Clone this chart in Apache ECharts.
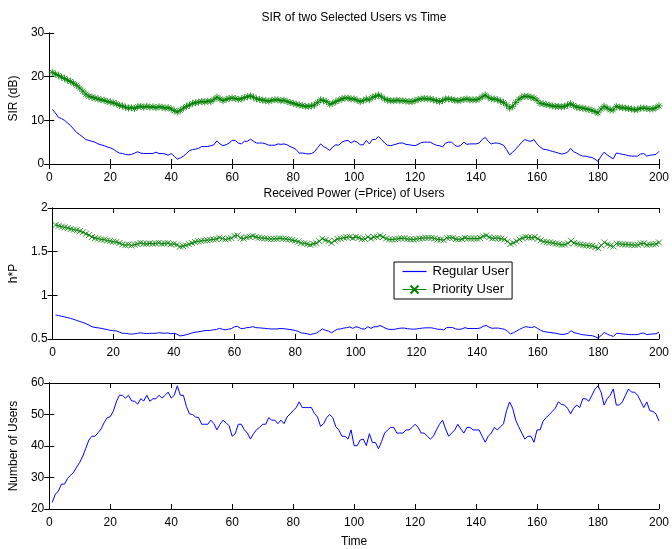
<!DOCTYPE html>
<html><head><meta charset="utf-8">
<script src="https://cdn.jsdelivr.net/npm/echarts@6/dist/echarts.min.js"></script>
<style>html,body{margin:0;padding:0;background:#fff}#c{width:672px;height:549px}</style>
</head><body><div id="c"></div>
<script>
const xTicks = [0, 20, 40, 60, 80, 100, 120, 140, 160, 180, 200];
const timeStart = 1;

const sirRegular = [
12.5,11.7,10.7,10.4,10.0,9.4,8.8,8.0,7.2,6.7,
6.2,5.6,5.4,5.2,5.0,4.6,4.4,4.2,3.9,3.7,
3.4,2.9,2.5,2.4,2.2,2.1,2.2,2.5,2.8,2.5,
2.4,2.4,2.4,2.4,2.7,2.4,2.4,2.3,2.0,2.4,
1.8,1.1,1.4,1.8,2.4,3.1,3.3,3.4,3.6,4.0,
4.0,4.0,4.2,4.4,5.3,4.6,4.2,4.4,4.8,5.4,
5.4,4.8,4.6,5.2,5.2,5.7,5.2,4.8,4.8,4.8,
4.6,4.3,4.3,4.3,4.6,4.5,4.6,4.4,4.0,3.7,
3.3,2.5,2.5,2.4,2.3,2.4,2.8,3.7,4.6,4.0,
3.6,3.1,3.9,4.4,4.3,5.0,5.3,5.4,4.8,5.3,
5.0,4.4,4.4,5.4,4.6,5.6,5.6,6.3,5.6,4.8,
4.3,4.2,4.4,4.6,4.8,4.8,4.5,4.4,4.3,4.2,
4.5,4.9,5.0,5.0,5.0,4.6,4.3,4.2,3.9,4.8,
5.0,5.0,4.3,4.0,4.3,5.0,4.5,4.6,4.6,4.6,
4.8,5.6,6.1,5.2,4.6,4.8,4.8,4.6,4.3,3.3,
2.1,2.7,3.4,4.2,5.0,5.6,5.3,5.2,5.6,4.6,
3.9,3.4,3.3,3.1,2.9,2.7,2.5,2.3,2.4,2.7,
3.6,2.8,2.5,2.1,1.8,1.8,1.6,1.5,1.1,0.6,
1.8,2.7,2.1,1.6,1.2,2.5,2.4,2.2,2.1,1.9,
1.8,1.8,1.8,2.3,2.4,1.8,2.0,2.1,2.2,2.9];

const sirPriority = [
21.0,20.6,20.3,19.9,19.6,19.2,18.9,18.5,18.0,17.4,
16.7,16.0,15.5,15.3,15.1,14.9,14.7,14.6,14.3,14.2,
14.0,13.8,13.4,13.3,13.0,12.8,12.9,12.7,13.1,13.2,
13.0,13.2,13.0,13.1,12.9,13.1,13.0,12.8,12.9,12.6,
12.2,11.9,12.3,12.8,13.2,13.5,13.9,14.0,14.2,14.3,
14.2,14.4,14.3,14.8,15.3,14.9,14.5,14.8,15.0,15.1,
15.0,14.8,14.9,15.2,15.4,15.6,15.3,14.9,14.8,14.6,
14.5,14.4,14.6,14.7,14.7,14.5,14.6,14.3,14.1,13.9,
13.7,13.5,13.4,13.2,13.2,13.3,13.5,14.1,14.7,14.5,
14.3,13.7,13.9,14.3,14.6,14.9,15.1,15.1,14.9,14.9,
14.6,14.3,14.5,14.9,14.7,15.3,15.5,15.8,15.4,14.9,
14.6,14.5,14.5,14.6,14.5,14.5,14.4,14.3,14.3,14.5,
14.8,14.9,15.0,14.9,14.9,14.7,14.5,14.3,14.5,14.9,
14.9,14.8,14.6,14.5,14.6,14.8,14.9,14.7,14.7,14.7,
14.9,15.4,15.8,15.3,14.9,14.9,14.7,14.4,14.1,13.5,
12.8,13.2,14.1,14.8,15.3,15.5,15.5,15.3,15.1,14.6,
13.9,13.8,13.6,13.5,13.3,13.2,13.2,13.1,13.2,13.5,
13.8,13.4,13.0,12.9,12.8,12.6,12.5,12.3,12.0,11.7,
12.6,13.2,12.8,12.4,12.4,13.2,13.0,12.9,12.8,12.7,
12.6,12.4,12.5,12.8,12.8,12.7,12.6,12.6,12.9,13.3];

const powerRegular = [
0.775,0.768,0.760,0.752,0.745,0.735,0.725,0.712,0.700,0.690,
0.675,0.660,0.640,0.632,0.628,0.622,0.615,0.608,0.600,0.595,
0.592,0.580,0.565,0.565,0.560,0.555,0.560,0.565,0.572,0.565,
0.562,0.565,0.565,0.565,0.572,0.568,0.565,0.570,0.560,0.565,
0.555,0.535,0.540,0.548,0.558,0.570,0.578,0.582,0.588,0.595,
0.598,0.598,0.605,0.608,0.622,0.612,0.605,0.612,0.620,0.640,
0.645,0.622,0.620,0.630,0.632,0.642,0.630,0.628,0.625,0.622,
0.618,0.615,0.615,0.615,0.620,0.618,0.615,0.610,0.605,0.598,
0.588,0.570,0.565,0.560,0.550,0.560,0.568,0.590,0.615,0.600,
0.590,0.570,0.595,0.612,0.615,0.625,0.630,0.638,0.622,0.640,
0.632,0.615,0.615,0.640,0.622,0.640,0.640,0.655,0.638,0.620,
0.610,0.610,0.612,0.620,0.625,0.625,0.618,0.615,0.612,0.615,
0.620,0.625,0.628,0.628,0.628,0.620,0.612,0.610,0.605,0.630,
0.632,0.630,0.615,0.610,0.615,0.630,0.620,0.620,0.620,0.620,
0.625,0.645,0.655,0.635,0.622,0.625,0.625,0.618,0.612,0.590,
0.558,0.572,0.590,0.610,0.628,0.642,0.635,0.632,0.642,0.620,
0.600,0.585,0.580,0.575,0.570,0.565,0.558,0.552,0.555,0.565,
0.595,0.572,0.565,0.555,0.548,0.545,0.540,0.538,0.525,0.510,
0.545,0.575,0.555,0.540,0.530,0.565,0.562,0.558,0.555,0.552,
0.550,0.550,0.550,0.565,0.568,0.550,0.555,0.558,0.560,0.578];

const powerPriority = [
1.805,1.795,1.785,1.778,1.770,1.760,1.752,1.745,1.735,1.722,
1.705,1.690,1.668,1.655,1.650,1.640,1.638,1.628,1.622,1.615,
1.610,1.598,1.582,1.575,1.580,1.572,1.580,1.588,1.600,1.592,
1.590,1.595,1.590,1.595,1.600,1.592,1.595,1.598,1.585,1.590,
1.580,1.558,1.565,1.572,1.585,1.598,1.610,1.618,1.622,1.628,
1.632,1.635,1.640,1.645,1.660,1.650,1.640,1.648,1.655,1.680,
1.685,1.655,1.650,1.665,1.670,1.680,1.668,1.660,1.655,1.652,
1.648,1.645,1.645,1.648,1.652,1.648,1.645,1.640,1.632,1.625,
1.615,1.600,1.595,1.588,1.578,1.590,1.598,1.620,1.648,1.632,
1.620,1.600,1.625,1.645,1.650,1.660,1.665,1.670,1.655,1.668,
1.660,1.645,1.645,1.668,1.650,1.668,1.670,1.685,1.668,1.650,
1.640,1.640,1.642,1.648,1.652,1.652,1.645,1.642,1.640,1.645,
1.650,1.655,1.658,1.658,1.658,1.650,1.640,1.638,1.632,1.658,
1.660,1.658,1.645,1.640,1.645,1.658,1.650,1.650,1.650,1.650,
1.655,1.675,1.685,1.665,1.652,1.655,1.655,1.648,1.640,1.618,
1.588,1.600,1.620,1.640,1.655,1.668,1.662,1.660,1.668,1.648,
1.630,1.615,1.610,1.605,1.598,1.592,1.585,1.580,1.582,1.595,
1.625,1.600,1.592,1.582,1.575,1.572,1.568,1.565,1.552,1.540,
1.572,1.605,1.585,1.570,1.560,1.592,1.590,1.585,1.582,1.580,
1.578,1.575,1.578,1.592,1.595,1.578,1.582,1.585,1.588,1.605];

const numUsers = [
22.1,24.7,25.7,27.9,27.9,29.7,30.7,31.7,33.3,34.8,
36.8,39.3,41.9,43.1,43.1,44.2,45.4,47.4,49.0,49.3,
51.0,54.0,56.1,56.1,55.2,56.1,54.3,54.2,53.3,55.0,
54.3,56.1,54.2,55.0,55.0,56.1,55.2,56.1,57.1,55.2,
56.1,59.1,56.1,56.1,52.5,50.2,50.0,49.2,49.0,46.9,
46.9,46.9,48.2,47.1,45.1,46.9,48.2,47.4,46.4,43.1,
43.9,46.9,46.9,45.1,44.1,42.2,43.9,45.2,45.9,46.9,
46.9,49.0,48.2,48.2,47.1,48.2,47.1,49.2,50.2,51.2,
52.2,54.0,52.2,52.2,52.2,52.2,50.3,49.2,46.2,47.1,
49.0,50.0,49.0,46.1,45.1,43.1,43.1,42.2,45.1,40.1,
40.1,41.9,42.2,40.1,43.9,41.1,41.1,39.1,41.4,44.1,
45.1,45.9,45.9,44.1,44.1,44.1,45.1,45.1,45.9,46.9,
45.9,44.1,44.1,43.1,42.2,43.1,45.1,46.9,48.2,45.4,
43.1,44.1,45.1,46.9,45.4,44.1,45.9,45.9,45.1,45.1,
45.1,43.1,41.2,43.1,44.1,45.9,45.1,46.1,47.1,51.2,
54.0,52.0,48.2,46.1,44.1,42.2,43.1,43.1,41.2,45.1,
45.1,47.9,49.0,50.0,51.0,52.0,54.0,53.2,53.0,52.0,
50.2,52.0,53.0,52.2,55.0,55.0,54.2,56.1,58.1,59.1,
57.1,53.0,55.0,56.1,58.1,53.0,53.0,54.0,56.1,58.1,
57.1,57.1,56.1,54.2,52.2,54.0,51.2,51.0,50.2,47.9];

const BLUE = '#0000ff', GREEN = '#008000';
const FONT = "'Liberation Sans', Arial, Helvetica, sans-serif";
const pts = arr => arr.map((v, i) => [timeStart + i, v]);

const grids = [
  {left: 48, right: 11, top: 33, height: 131},
  {left: 48, right: 11, top: 208, height: 131},
  {left: 48, right: 11, top: 383, height: 132}
];
const yCfg = [
  {min: 0, max: 30, interval: 10, name: 'SIR (dB)', gap: 19},
  {min: 0.5, max: 2, interval: 0.5, name: 'h*P', gap: 31},
  {min: 20, max: 60, interval: 10, name: 'Number of Users', gap: 24}
];

const axLine = {show: true, lineStyle: {color: '#000', width: 1}};
const tick = {show: true, inside: true, length: 5, lineStyle: {color: '#000'}};
const xAxis = [], yAxis = [];
grids.forEach((g, i) => {
  xAxis.push({type: 'value', gridIndex: i, min: xTicks[0], max: xTicks[xTicks.length-1], interval: 20,
    axisLine: axLine, axisTick: tick, splitLine: {show: false},
    axisLabel: {color: '#000', fontSize: 12, fontFamily: FONT, margin: 8},
    name: i === 2 ? 'Time' : '', nameLocation: 'middle', nameGap: 27,
    nameTextStyle: {color: '#000', fontSize: 12, fontFamily: FONT}});
  xAxis.push({type: 'value', gridIndex: i, position: 'top', min: 0, max: 200, interval: 20,
    axisLine: axLine, axisTick: tick, splitLine: {show: false}, axisLabel: {show: false}});
  const y = yCfg[i];
  yAxis.push({type: 'value', gridIndex: i, min: y.min, max: y.max, interval: y.interval,
    axisLine: axLine, axisTick: tick, splitLine: {show: false},
    axisLabel: {color: '#000', fontSize: 12, fontFamily: FONT, margin: 5},
    name: y.name, nameLocation: 'middle', nameGap: y.gap,
    nameTextStyle: {color: '#000', fontSize: 12, fontFamily: FONT}});
  yAxis.push({type: 'value', gridIndex: i, position: 'right', min: y.min, max: y.max, interval: y.interval,
    axisLine: axLine, axisTick: tick, splitLine: {show: false}, axisLabel: {show: false}});
});

const star = 'path://M3.5,0L3.5,7M0,3.5L7,3.5M1,1L6,6M6,1L1,6';
const cross = 'path://M0,0L6,6M6,0L0,6';
const markStyle = {color: 'rgba(0,0,0,0)', borderColor: GREEN, borderWidth: 1};

const option = {
  animation: false,
  backgroundColor: '#fff',
  title: [
    {text: 'SIR of two Selected Users vs Time', left: 354, top: 12, textAlign: 'center',
     textStyle: {fontSize: 12, fontWeight: 'normal', color: '#000', fontFamily: FONT}, padding: 0},
    {text: 'Received Power (=Price) of Users', left: 354, top: 188, textAlign: 'center',
     textStyle: {fontSize: 12, fontWeight: 'normal', color: '#000', fontFamily: FONT}, padding: 0}
  ],
  legend: {
    data: [
      {name: 'Regular User', icon: 'path://M0,0L24,0L24,1.2L0,1.2Z', itemStyle: {color: BLUE}},
      {name: 'Priority User'}
    ],
    orient: 'vertical', left: 394, top: 262,
    backgroundColor: '#fff', borderColor: '#000', borderWidth: 1, borderRadius: 0,
    padding: [3, 3, 3, 8], itemGap: 5, itemWidth: 24, itemHeight: 10,
    lineStyle: {width: 1},
    textStyle: {fontSize: 13, color: '#000', fontFamily: FONT, padding: [0, 0, 0, 1]}
  },
  grid: grids,
  xAxis: xAxis,
  yAxis: yAxis,
  series: [
    {name: 'SIR Regular', type: 'line', xAxisIndex: 0, yAxisIndex: 0, data: pts(sirRegular),
     symbol: 'none', lineStyle: {color: BLUE, width: 1}, itemStyle: {color: BLUE}},
    {name: 'SIR Priority', type: 'line', xAxisIndex: 0, yAxisIndex: 0, data: pts(sirPriority),
     symbol: 'none', lineStyle: {color: GREEN, width: 1}, itemStyle: {color: GREEN}},
    {name: 'SIR Priority marks', type: 'scatter', xAxisIndex: 0, yAxisIndex: 0, data: pts(sirPriority),
     symbol: star, symbolSize: 7, itemStyle: markStyle},
    {name: 'Regular User', type: 'line', xAxisIndex: 2, yAxisIndex: 2, data: pts(powerRegular),
     symbol: 'none', lineStyle: {color: BLUE, width: 1}, itemStyle: {color: BLUE}},
    {name: 'Priority User', type: 'line', xAxisIndex: 2, yAxisIndex: 2, data: pts(powerPriority),
     symbol: cross, symbolSize: 6, showSymbol: false, lineStyle: {color: GREEN, width: 1},
     itemStyle: markStyle},
    {name: 'Priority User marks', type: 'scatter', xAxisIndex: 2, yAxisIndex: 2, data: pts(powerPriority),
     symbol: cross, symbolSize: 6, itemStyle: markStyle},
    {name: 'Users', type: 'line', xAxisIndex: 4, yAxisIndex: 4, data: pts(numUsers),
     symbol: 'none', lineStyle: {color: BLUE, width: 1}, itemStyle: {color: BLUE}}
  ]
};
const chart = echarts.init(document.getElementById('c'), null, {renderer: 'canvas'});
chart.setOption(option);
</script></body></html>
